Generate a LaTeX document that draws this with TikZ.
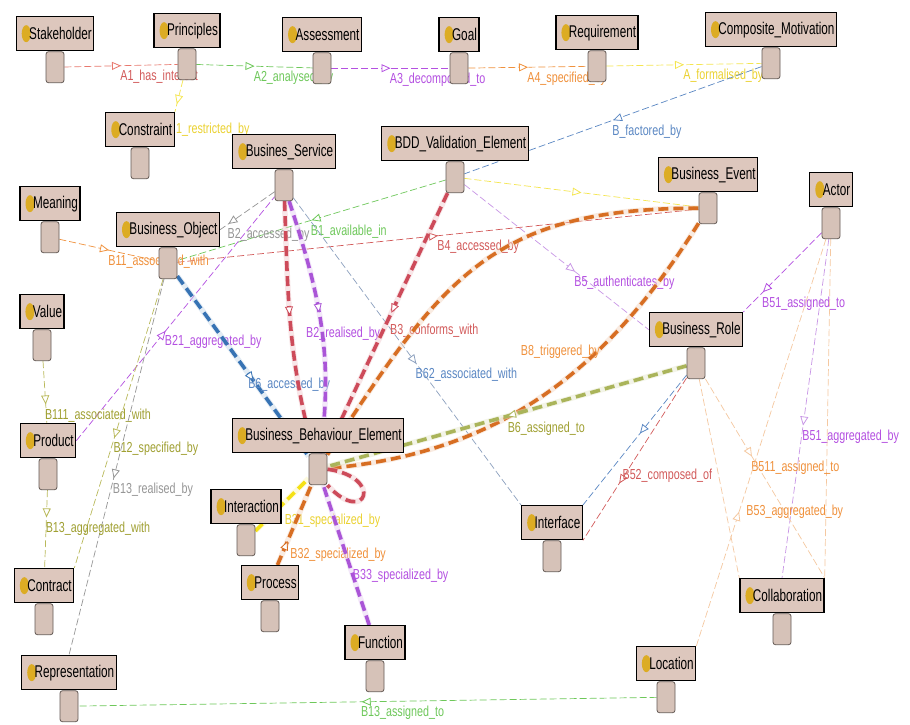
\documentclass[tikz,border=0pt]{standalone}
\usepackage{fontspec}
\usetikzlibrary{arrows.meta,decorations.markings}
\newfontfamily\cond[FakeStretch=0.69]{Liberation Sans}
\newfontfamily\condl[FakeStretch=0.74]{Liberation Sans}

\definecolor{boxfill}{RGB}{221,199,189}
\definecolor{lifefill}{RGB}{214,194,184}
\definecolor{lifedraw}{RGB}{100,90,85}
\definecolor{iconc}{RGB}{220,172,36}
\definecolor{cRed}{RGB}{232,120,110}
\definecolor{cRedT}{RGB}{210,90,90}
\definecolor{cGreen}{RGB}{110,200,90}
\definecolor{cPurple}{RGB}{180,80,225}
\definecolor{cLav}{RGB}{200,150,230}
\definecolor{cOrange}{RGB}{240,145,60}
\definecolor{cPaleOr}{RGB}{245,200,160}
\definecolor{cYellow}{RGB}{245,230,80}
\definecolor{cYellowT}{RGB}{235,210,50}
\definecolor{cBlue}{RGB}{90,135,195}
\definecolor{cBlueGrey}{RGB}{140,160,190}
\definecolor{cGrey}{RGB}{150,150,150}
\definecolor{cOlive}{RGB}{185,185,90}
\definecolor{cOliveT}{RGB}{160,160,50}
\definecolor{hRed}{RGB}{205,75,90}
\definecolor{hPurple}{RGB}{170,85,215}
\definecolor{hOrange}{RGB}{215,110,35}
\definecolor{hBlue}{RGB}{55,115,180}
\definecolor{hOlive}{RGB}{170,180,90}
\definecolor{hYellow}{RGB}{245,225,20}

\pgfdeclarelayer{edges}
\pgfsetlayers{edges,main}

\tikzset{
  hdr/.style={draw=black, line width=1.3pt, fill=boxfill, minimum height=34pt,
    inner xsep=2pt, inner ysep=0pt, font=\cond\fontsize{17}{17}\selectfont,
    path picture={\fill[iconc] ([xshift=10pt]path picture bounding box.west)
      ellipse [x radius=4.5pt, y radius=8.5pt];}},
  life/.style={draw=lifedraw, line width=0.8pt, fill=lifefill, rounded corners=2.5pt,
    minimum width=18pt, minimum height=31pt, inner sep=0pt},
  rel/.style={draw=#1, line width=0.7pt, dash pattern=on 7pt off 3pt},
  hl/.style={draw=#1, line width=3.6pt, dash pattern=on 10pt off 5pt,
    preaction={draw=#1!30, line width=5.5pt, solid, opacity=0.45}},
  am/.style={postaction={decorate, decoration={markings, mark=at position #1 with
    {\arrow{Triangle[open, fill=white, line width=0.8pt, length=9pt, width=8pt]}}}}},
  lb/.style={font=\condl\fontsize{14.5}{14.5}\selectfont, text=#1, inner sep=1pt},
  lp/.style={pos=#1, anchor=north west, xshift=-2pt, yshift=-3pt}
}

% entity: header box with icon, lifeline below
\newcommand\mkent[4]{%
  \node[hdr, anchor=north] (#1) at (#2,#3) {\hspace*{11pt}#4};
  \node[life, anchor=north] (#1L) at (#1.south) {};
}

\begin{document}
\begin{tikzpicture}[x=1pt, y=-1pt]
\useasboundingbox (0,0) rectangle (910,724);

\mkent{stk}{55}{16}{Stakeholder}
\mkent{pri}{187}{13}{Principles}
\mkent{ass}{322}{17}{Assessment}
\mkent{goal}{459}{17}{Goal}
\mkent{req}{597}{15}{Requirement}
\mkent{comp}{771}{12}{Composite\_Motivation}
\mkent{con}{140}{112}{Constraint}
\mkent{bsv}{284}{134}{Busines\_Service}
\mkent{bdd}{455}{126}{BDD\_Validation\_Element}
\mkent{bev}{708}{157}{Business\_Event}
\mkent{act}{831}{172}{Actor}
\mkent{mean}{50}{186}{Meaning}
\mkent{bob}{168}{212}{Business\_Object}
\mkent{val}{42}{294}{Value}
\mkent{prod}{48}{423}{Product}
\mkent{bbe}{318}{418}{Business\_Behaviour\_Element}
\mkent{int}{246}{489}{Interaction}
\mkent{ifc}{552}{505}{Interface}
\mkent{brol}{696}{312}{Business\_Role}
\mkent{ctr}{44}{568}{Contract}
\mkent{proc}{270}{565}{Process}
\mkent{fun}{375}{625}{Function}
\mkent{rep}{69}{655}{Representation}
\mkent{loc}{666}{646}{Location}
\mkent{coll}{782}{578}{Collaboration}

\begin{pgfonlayer}{edges}
\fill[white] (0,0) rectangle (910,724);

% motivation chain
\draw[rel=cRed, am=.5] (stkL) -- node[lb=cRedT, lp=.5]{A1\_has\_interest} (priL);
\draw[rel=cGreen, am=.5] (priL) -- node[lb=cGreen, lp=.5]{A2\_analysed\_by} (assL);
\draw[rel=cPurple, am=.5] (assL) -- node[lb=cPurple, lp=.5]{A3\_decomposed\_to} (goalL);
\draw[rel=cOrange, am=.5] (goalL) -- node[lb=cOrange, lp=.5]{A4\_specified\_by} (reqL);
\draw[rel=cYellow, am=.5] (reqL) -- node[lb=cYellowT, lp=.5]{A\_formalised\_by} (compL);
\draw[rel=cYellow, am=.75] (priL) -- (con.north east);
\node[lb=cYellowT, anchor=west] (lrestr) at (con.east) {1\_restricted\_by};
\draw[rel=cBlue, am=.5] (compL) -- node[lb=cBlue, lp=.5]{B\_factored\_by} (bddL);

% thin relations
\draw[rel=cRedT, am=.5] (bobL) -- node[lb=cRedT, lp=.5]{B4\_accessed\_by} (bevL);
\draw[rel=cYellow, am=.5] (bddL) -- (bevL);
\draw[rel=cLav, am=.6] (bddL) -- node[lb=cPurple, lp=.6]{B5\_authenticates\_by} (brol.west);
\draw[rel=cGreen, am=.5] (bddL) -- node[lb=cGreen, lp=.5]{B1\_available\_in} (bobL);
\draw[rel=cGrey, am=.85] (bsvL) -- node[lb=cGrey, lp=.85]{B2\_accessed\_by} (bob.east);
\draw[rel=cBlueGrey, am=.54] (bsvL) -- node[lb=cBlue, lp=.54]{B62\_associated\_with} (ifc.north west);
\draw[rel=cPurple, am=.45] (prod.east) -- node[lb=cPurple, lp=.45]{B21\_aggregated\_by} (bsvL);
\draw[rel=cOrange, am=.5] (meanL) -- node[lb=cOrange, lp=.5]{B11\_associated\_with} (bobL);
\draw[rel=cOlive, am=.7] (valL) -- node[lb=cOliveT, lp=.7]{B111\_associated\_with} (prod);
\draw[rel=cOlive, am=.55] (bobL) -- node[lb=cOliveT, lp=.55]{B12\_specified\_by} (ctr.north east);
\draw[rel=cGrey, am=.53] (bobL) -- node[lb=cGrey, lp=.53]{B13\_realised\_by} (rep.north);
\draw[rel=cOlive, am=.35] (prodL) -- node[lb=cOliveT, lp=.35]{B13\_aggregated\_with} (ctr);
\draw[rel=cGreen, am=.51] (locL) -- node[lb=cGreen, lp=.51]{B13\_assigned\_to} (repL);
\draw[rel=cPurple, am=.75] (actL) -- node[lb=cPurple, lp=.75]{B51\_assigned\_to} (brol.north east);
\draw[rel=cLav, am=.55] (actL) -- node[lb=cPurple, lp=.55]{B51\_aggregated\_by} (coll.north);
\draw[rel=cPaleOr] (actL) -- (coll.north east);
\draw[rel=cPaleOr, am=.39] (brolL) -- node[lb=cOrange, lp=.39]{B511\_assigned\_to} (coll.north east);
\draw[rel=cPaleOr] (brolL) -- (coll.north west);
\draw[rel=cPaleOr, am=.33] (loc.north east) -- node[lb=cOrange, pos=.33, anchor=west, xshift=6pt]{B53\_aggregated\_by} (actL);
\draw[rel=cBlue, am=.45] (brolL) -- (ifc.north east);
\draw[rel=cRedT, am=.65] (brolL) -- node[lb=cRedT, pos=.65, anchor=south west, xshift=2pt]{B52\_composed\_of} (ifc.south east);

% highlighted relations of the behaviour element
\draw[hl=hBlue, am=.58] (bobL) -- node[lb=cBlue, pos=.58, anchor=west, xshift=-8pt, yshift=-4pt]{B6\_accessed\_by} (bbeL);
\draw[hl=hRed, am=.45] (bsvL) to[out=-88, in=105] (bbeL);
\draw[hl=hPurple, am=.45] (bsvL) to[out=-72, in=82] node[lb=cPurple, pos=.5, anchor=west, xshift=-18pt, yshift=-8pt]{B2\_realised\_by} (bbeL);
\draw[hl=hRed, am=.46] (bddL) -- node[lb=cRedT, pos=.46, anchor=north west, xshift=-4pt, yshift=-8pt]{B3\_conforms\_with} (bbeL);
\draw[hl=hOrange] (bbeL) to[out=57, in=180, looseness=1.2] (bevL);
\draw[hl=hOrange] (bevL) to[out=-122, in=5] node[lb=cOrange, pos=.3, anchor=north east, xshift=-8pt, yshift=-4pt]{B8\_triggered\_by} (bbeL);
\draw[hl=hOlive, am=.5] (brolL) -- node[lb=cOliveT, lp=.5]{B6\_assigned\_to} (bbeL);
\draw[hl=hYellow] (intL) -- node[lb=cYellowT, pos=.5, anchor=north west, yshift=-6pt]{B31\_specialized\_by} (bbeL);
\draw[hl=hOrange, am=.3] (proc) -- node[lb=cOrange, pos=.3, anchor=north west, yshift=-4pt]{B32\_specialized\_by} (bbeL);
\draw[hl=hPurple] (fun) -- node[lb=cPurple, pos=.35, anchor=west, xshift=-3pt]{B33\_specialized\_by} (bbeL);
\draw[hl=hRed] (bbeL.east) .. controls +(58,8) and +(38,42) .. (bbeL.south east);
\end{pgfonlayer}
\end{tikzpicture}
\end{document}
